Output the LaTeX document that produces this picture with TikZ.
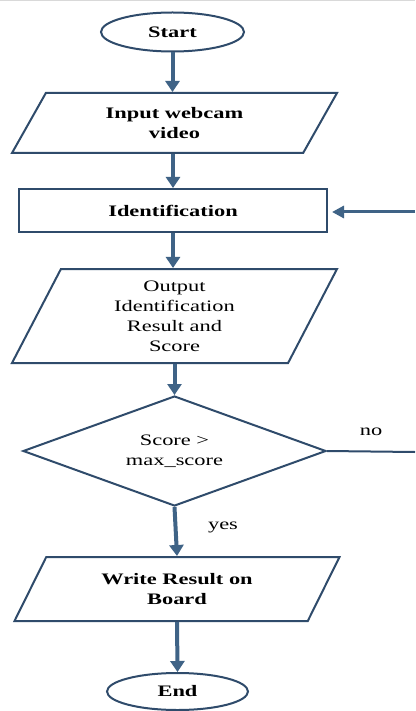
\documentclass[tikz,border=0pt]{standalone}
\usepackage{fontspec}
\setmainfont{Liberation Serif}[FakeStretch=1.4]
\usetikzlibrary{shapes.geometric,arrows.meta}
\definecolor{shapeline}{HTML}{2F4B6B}
\definecolor{arrowcol}{HTML}{3F6386}
\begin{document}
\begin{tikzpicture}[x=1pt,y=-1pt,
  base/.style={draw=shapeline, line width=2pt, fill=white, inner sep=0pt, align=center,
    font=\fontsize{16}{20}\selectfont},
  boldbase/.style={base, font=\fontsize{16}{20}\selectfont\bfseries},
  term/.style={boldbase, ellipse},
  proc/.style={boldbase, rectangle},
  para/.style n args={2}{trapezium, trapezium stretches body,
    trapezium left angle=#1, trapezium right angle=#2, minimum width=325pt},
  decision/.style={base, diamond, shape aspect=2.75},
  flow/.style={draw=arrowcol, line width=4pt, -{Triangle[width=14pt,length=11pt]}},
  plainline/.style={draw=shapeline, line width=2pt},
  lab/.style={inner sep=0pt, font=\fontsize{16}{20}\selectfont}
]
\useasboundingbox (0,0) rectangle (415,711);
\fill[white] (0,0) rectangle (415,711);
\draw[black!15, line width=1pt] (0,1) -- (415,1);

\node[term, minimum width=143pt, minimum height=39pt] (start) at (172.5,32) {Start};
\node[boldbase, para={42.71}{137.29}, minimum height=60pt] (in) at (174.5,123) {Input webcam\\video};
\node[proc, minimum width=308pt, minimum height=43pt] (id) at (173,210.5) {Identification};
\node[base, para={55.34}{124.66}, minimum height=94pt] (out) at (174.5,316) {Output\\Identification\\Result and\\Score};
\node[decision, minimum width=303pt, minimum height=110pt] (dec) at (174.5,451) {Score >\\max\_score};
\node[boldbase, para={44.56}{135.44}, minimum height=64pt] (wr) at (177,589) {Write Result on\\Board};
\node[term, minimum width=141pt, minimum height=37pt] (end) at (177.5,691.5) {End};

\node[lab] (no) at (371,432) {no};
\node[lab] (yes) at (223,527) {yes};

\coordinate (rin) at (415,212);
\coordinate (rno) at (415,452);

\draw[flow] (start.south) -- (start.south |- in.north);
\draw[flow] (in.south -| id.north) -- (id.north);
\draw[flow] (id.south) -- (id.south |- out.north);
\draw[flow] (out.south -| dec.north) -- (dec.north);
\draw[flow] (dec.south) -- (wr.north);
\draw[flow] (wr.south) -- (end.north);
\draw[flow, -{Triangle[width=12pt,length=12pt]}, line width=3pt, shorten >=4pt] (rin) -- (rin -| id.east);
\draw[plainline] (dec.east) -- (rno);
\end{tikzpicture}
\end{document}
